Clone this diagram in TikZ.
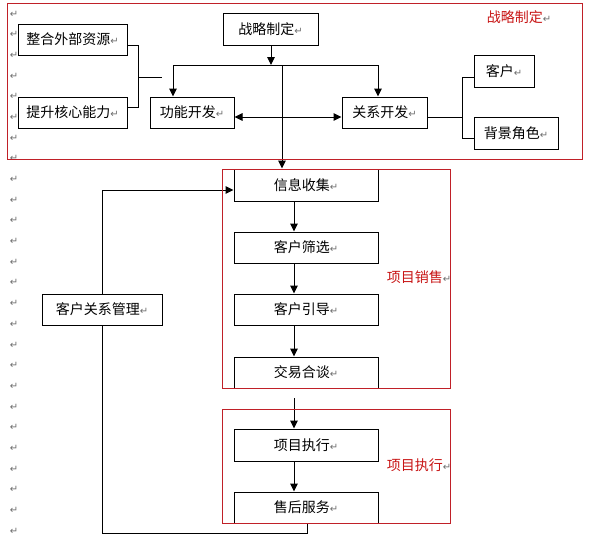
\documentclass[tikz,border=0pt]{standalone}
\usepackage{fontspec}
\newfontfamily\cjk{Noto Sans CJK SC}
\newfontfamily\dejavu{DejaVu Sans}
\usetikzlibrary{arrows.meta}
\definecolor{redline}{RGB}{192,32,40}
\definecolor{redtext}{RGB}{200,20,20}
\definecolor{markgray}{RGB}{110,110,110}
\newcommand{\mk}{{\color{markgray}\dejavu\fontsize{10}{10}\selectfont ↵}}
\tikzset{
  box/.style={draw=black, line width=1pt, inner sep=0pt, minimum height=31pt,
    font=\cjk\fontsize{14}{16}\selectfont, anchor=center},
  redbox/.style={draw=redline, line width=1pt},
  redlabel/.style={font=\cjk\fontsize{14}{16}\selectfont, text=redtext, inner sep=0pt},
  conn/.style={draw=black, line width=1pt},
  arr/.style={conn, -{Triangle[width=7.5pt,length=8pt]}},
  darr/.style={conn, {Triangle[width=7.5pt,length=8pt]}-{Triangle[width=7.5pt,length=8pt]}},
  pmark/.style={inner sep=0pt, font=\dejavu\fontsize{10}{10}\selectfont, text=markgray}
}
\begin{document}
\begin{tikzpicture}[x=1pt,y=-1pt]
\useasboundingbox (0,0) rectangle (590,538);
\fill[white] (0,0) rectangle (590,538);

% left column of paragraph marks
\foreach \i in {0,...,25} {
  \node[pmark] (pm\i) at (14, {14+20.68*\i}) {↵};
}

% boxes
\node[box, minimum width=109pt] (zhy) at (72.5,39.5) {整合外部资源\mk};
\node[box, minimum width=109pt] (tsh) at (72.5,112.5) {提升核心能力\mk};
\node[box, minimum width=84pt] (gn) at (192,112.5) {功能开发\mk};
\node[box, minimum width=95pt, minimum height=32pt] (zl) at (270.5,29) {战略制定\mk};
\node[box, minimum width=85pt] (gx) at (384.5,112.5) {关系开发\mk};
\node[box, minimum width=60pt, minimum height=32pt] (kh) at (504,71) {客户\mk};
\node[box, minimum width=84pt, minimum height=32pt] (bj) at (516,133) {背景角色\mk};

\node[box, minimum width=144pt, minimum height=32pt] (xx) at (306,185) {信息收集\mk};
\node[box, minimum width=144pt] (sx) at (306,247.5) {客户筛选\mk};
\node[box, minimum width=144pt] (yd) at (306,309.5) {客户引导\mk};
\node[box, minimum width=144pt] (jy) at (306,372.5) {交易合谈\mk};
\node[box, minimum width=144pt, minimum height=32pt] (zx) at (306,445) {项目执行\mk};
\node[box, minimum width=144pt] (sh) at (306,507.5) {售后服务\mk};
\node[box, minimum width=120pt] (crm) at (102,309.5) {客户关系管理\mk};

% junction coordinates
\coordinate (j0) at (271,65);
\coordinate (hl) at (173,65);
\coordinate (hr) at (378,65);
\coordinate (hv) at (282,65);
\coordinate (b1) at (138,45);
\coordinate (b2) at (138,107);
\coordinate (bm) at (138,77);
\coordinate (bme) at (162,77);
\coordinate (r0) at (462,117);
\coordinate (r1) at (462,77);
\coordinate (r2) at (462,138);
\coordinate (jx) at (294,398);
\coordinate (c1) at (102,190);
\coordinate (c2) at (102,533);
\coordinate (c3) at (307,533);

% top section connectors
\draw[arr] (zl.south -| j0) -- (j0);
\draw[conn] (hl) -- (hr);
\draw[arr] (hl) -- (hl |- gn.north);
\draw[arr] (hr) -- (hr |- gx.north);
\draw[arr] (hv) -- (hv |- xx.north);
\draw[darr] ([yshift=-4.5pt]gn.east) -- ([yshift=-4.5pt]gx.west);
\draw[conn] ([yshift=-5.5pt]zhy.east) -- (b1) -- (b2) -- ([yshift=5.5pt]tsh.east);
\draw[conn] (bm) -- (bme);
\draw[conn] ([yshift=-4.5pt]gx.east) -- (r0);
\draw[conn] (r1) -- (r2);
\draw[conn] (r1) -- (r1 -| kh.west);
\draw[conn] (r2) -- (r2 -| bj.west);

% vertical chain
\draw[arr] ([xshift=-12pt]xx.south) -- ([xshift=-12pt]sx.north);
\draw[arr] ([xshift=-12pt]sx.south) -- ([xshift=-12pt]yd.north);
\draw[arr] ([xshift=-12pt]yd.south) -- ([xshift=-12pt]jy.north);
\draw[arr] (jx) -- (jx |- zx.north);
\draw[arr] ([xshift=-12pt]zx.south) -- ([xshift=-12pt]sh.north);

% customer relationship loop
\draw[arr] (crm.north) -- (c1) -- (c1 -| xx.west);
\draw[conn] (crm.south) -- (c2) -- (c3) -- (c3 |- sh.south);

% red frames
\draw[redbox] (7,3) rectangle (582,159);
\draw[redbox] (222,169) rectangle (450,388);
\draw[redbox] (222,409) rectangle (450,523);
\node[redlabel] (l1) at (519,17) {战略制定\mk};
\node[redlabel] (l2) at (419,277) {项目销售\mk};
\node[redlabel] (l3) at (419,465) {项目执行\mk};
\end{tikzpicture}
\end{document}
